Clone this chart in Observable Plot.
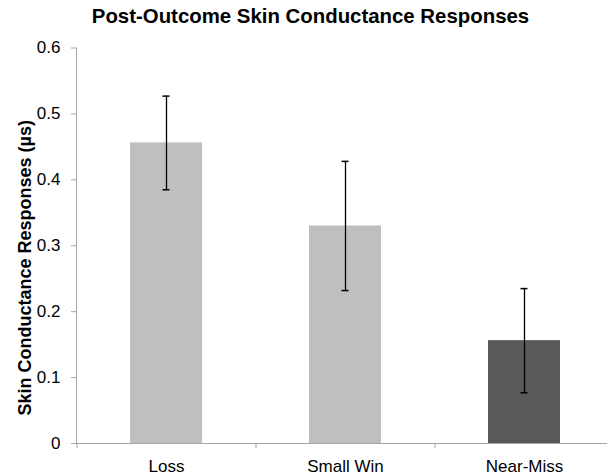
<!DOCTYPE html>
<html>
<head>
<meta charset="utf-8">
<script src="https://cdn.jsdelivr.net/npm/d3@7"></script>
<script src="https://cdn.jsdelivr.net/npm/@observablehq/plot@0.6"></script>
<style>
  html, body { margin: 0; padding: 0; background: #fff; }
  #wrap { width: 607px; height: 476px; font-family: Arial, "Liberation Sans", sans-serif; }
  #title { height: 30px; line-height: 32px; font-size: 20.4px; font-weight: bold; color: #000;
           text-align: center; padding-left: 14px; box-sizing: border-box; width: 607px; white-space: nowrap; }
  svg { display: block; }
</style>
</head>
<body>
<div id="wrap">
  <div id="title">Post-Outcome Skin Conductance Responses</div>
  <div id="chart"></div>
</div>
<script>
const categories = ["Loss", "Small Win", "Near-Miss"];
const means = [0.456, 0.330, 0.156];
const errors = [0.071, 0.098, 0.079];
const yTicks = [0, 0.1, 0.2, 0.3, 0.4, 0.5, 0.6];
const yTickLabels = ["0", "0.1", "0.2", "0.3", "0.4", "0.5", "0.6"];
const yLabel = "Skin Conductance Responses (µs)";

const palette = ["#bfbfbf", "#bfbfbf", "#595959"];
const data = categories.map((c, i) => ({cat: c, mean: means[i], lo: means[i] - errors[i], hi: means[i] + errors[i]}));

const axisGray = "#a6a6a6";
const chart = Plot.plot({
  width: 607,
  height: 446,
  marginLeft: 76,
  marginRight: 0,
  marginTop: 17.5,
  marginBottom: 33,
  style: {fontFamily: 'Arial, "Liberation Sans", sans-serif', fontSize: "17px", background: "#fff", color: "#000"},
  x: {domain: categories, range: [76, 613], paddingInner: 0.6, paddingOuter: 0.3},
  y: {domain: [0, 0.6]},
  color: {domain: categories, range: palette},
  marks: [
    Plot.barY(data, {x: "cat", y: "mean", fill: "cat"}),
    Plot.ruleX(data, {x: "cat", y1: "lo", y2: "hi", stroke: "#000", strokeWidth: 1.3}),
    Plot.tickY(data, {x: "cat", y: "hi", stroke: "#000", strokeWidth: 1.5, insetLeft: 32.5, insetRight: 32.5}),
    Plot.tickY(data, {x: "cat", y: "lo", stroke: "#000", strokeWidth: 1.5, insetLeft: 32.5, insetRight: 32.5}),
    Plot.frame({anchor: "left", stroke: axisGray}),
    Plot.ruleY([0], {stroke: axisGray, strokeWidth: 1.2, insetLeft: -5}),
    Plot.axisY({ticks: yTicks, tickFormat: (d, i) => yTickLabels[yTicks.indexOf(d)], tickSize: 5, tickPadding: 11,
                stroke: axisGray, fill: "#000", label: null, fontSize: 17}),
    Plot.axisX({tickSize: 5, tickFormat: () => "", dx: -89.5, stroke: axisGray, label: null}),
    Plot.axisX({tickSize: 0, tickPadding: 16, fill: "#000", label: null, fontSize: 17}),
    Plot.text([yLabel], {frameAnchor: "left", text: d => d, rotate: -90, dx: -51, dy: 22,
                         fontWeight: "bold", fontSize: 18, fill: "#000", textAnchor: "middle"})
  ]
});
document.getElementById("chart").appendChild(chart);
</script>
</body>
</html>
